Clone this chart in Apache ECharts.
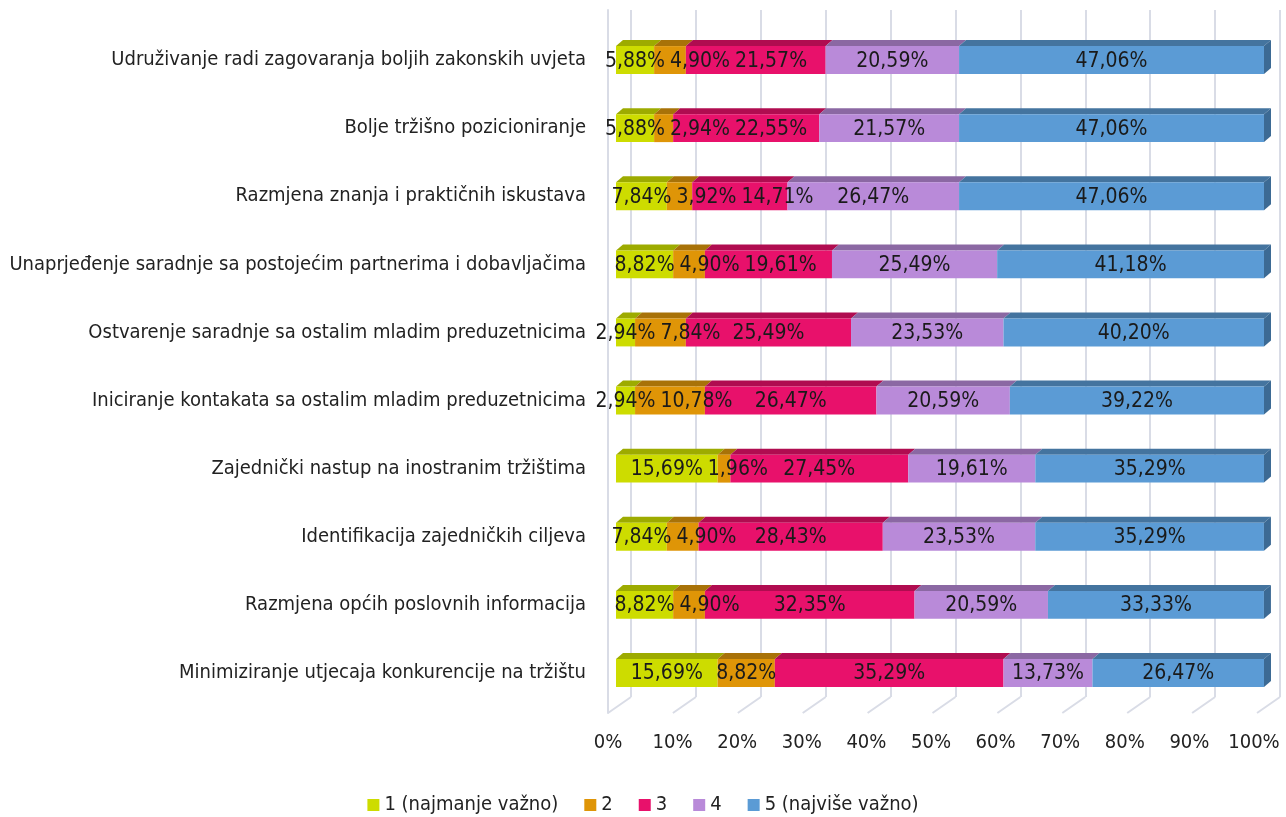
<!DOCTYPE html>
<html>
<head>
<meta charset="utf-8">
<script src="https://cdn.jsdelivr.net/npm/echarts@6/dist/echarts.min.js"></script>
<style>
  html, body { margin: 0; padding: 0; background: #fff; }
  #chart { width: 1286px; height: 817px; }
</style>
</head>
<body>
<div id="chart"></div>
<script>
// categories, top to bottom
const categories = [
  'Udruživanje radi zagovaranja boljih zakonskih uvjeta',
  'Bolje tržišno pozicioniranje',
  'Razmjena znanja i praktičnih iskustava',
  'Unaprjeđenje saradnje sa postojećim partnerima i dobavljačima',
  'Ostvarenje saradnje sa ostalim mladim preduzetnicima',
  'Iniciranje kontakata sa ostalim mladim preduzetnicima',
  'Zajednički nastup na inostranim tržištima',
  'Identifikacija zajedničkih ciljeva',
  'Razmjena općih poslovnih informacija',
  'Minimiziranje utjecaja konkurencije na tržištu'
]

const level1 = [5.88, 5.88, 7.84, 8.82, 2.94, 2.94, 15.69, 7.84, 8.82, 15.69]
const level2 = [4.90, 2.94, 3.92, 4.90, 7.84, 10.78, 1.96, 4.90, 4.90, 8.82]
const level3 = [21.57, 22.55, 14.71, 19.61, 25.49, 26.47, 27.45, 28.43, 32.35, 35.29]
const level4 = [20.59, 21.57, 26.47, 25.49, 23.53, 20.59, 19.61, 23.53, 20.59, 13.73]
const level5 = [47.06, 47.06, 47.06, 41.18, 40.20, 39.22, 35.29, 35.29, 33.33, 26.47]

const seriesNames = ['1 (najmanje važno)', '2', '3', '4', '5 (najviše važno)']
const xTicks = [0, 10, 20, 30, 40, 50, 60, 70, 80, 90, 100]

const levels = [level1, level2, level3, level4, level5]
const FRONT = ['#cddc00', '#df9507', '#e8116b', '#b98ad9', '#5b9bd5']
const TOP = ['#9dab00', '#a87208', '#b00c50', '#8b68a3', '#44749f']
const SIDE = '#3c6a94'
const FONT = '"Liberation Sans Narrow", "DejaVu Sans Condensed", sans-serif'
const LABEL_FONT = '21px ' + FONT
const GRID_COLOR = '#d9dce6'
const DX = 7, DY = 6
const LABEL_GAP = 5

// stacked start/end per level
const stacked = levels.map((vals, li) => vals.map((v, ci) => {
  let start = 0
  for (let k = 0; k < li; k++) start += levels[k][ci]
  return [start, start + v, ci, v]
}))

function fmt(v) {
  return v.toFixed(2).replace('.', ',') + '%'
}

const measureCtx = document.createElement('canvas').getContext('2d')
measureCtx.font = LABEL_FONT
function textWidth(s) {
  return measureCtx.measureText(s).width
}

function barRenderer(li) {
  return function (params, api) {
    const s = api.coord([api.value(0), api.value(2)])
    const e = api.coord([api.value(1), api.value(2)])
    const h = api.size([0, 1])[1] * 0.41
    const x0 = s[0], x1 = e[0]
    const yT = s[1] - h / 2, yB = s[1] + h / 2
    const children = [
      {
        type: 'polygon',
        shape: { points: [[x0, yT], [x1, yT], [x1 + DX, yT - DY], [x0 + DX, yT - DY]] },
        style: { fill: TOP[li] }
      },
      {
        type: 'rect',
        shape: { x: x0, y: yT, width: x1 - x0, height: h },
        style: { fill: FRONT[li] }
      }
    ]
    if (li === levels.length - 1) {
      children.push({
        type: 'polygon',
        shape: { points: [[x1, yT], [x1 + DX, yT - DY], [x1 + DX, yB - DY], [x1, yB]] },
        style: { fill: SIDE }
      })
    }
    return { type: 'group', children: children }
  }
}

// centre labels in their segment, then push them right so that they don't overlap
function labelCenters(api, ci) {
  let prevRight = -Infinity
  return levels.map((vals, li) => {
    const d = stacked[li][ci]
    const a = api.coord([d[0], ci])[0]
    const b = api.coord([d[1], ci])[0]
    const w = textWidth(fmt(d[3]))
    let c = (a + b) / 2
    if (c - w / 2 < prevRight + LABEL_GAP) c = prevRight + LABEL_GAP + w / 2
    prevRight = c + w / 2
    return c
  })
}

function labelRenderer(li) {
  return function (params, api) {
    const ci = api.value(2)
    const y = api.coord([0, ci])[1]
    return {
      type: 'text',
      z2: 10,
      style: {
        text: fmt(api.value(3)),
        x: labelCenters(api, ci)[li],
        y: y + 1,
        align: 'center',
        verticalAlign: 'middle',
        fill: '#1a1a1a',
        font: LABEL_FONT
      }
    }
  }
}

// floor lines running from the back wall to the front edge
function floorRenderer(params, api) {
  const p = api.coord([api.value(0), 0])
  return {
    type: 'line',
    shape: { x1: p[0], y1: p[1], x2: p[0] - 23, y2: p[1] + 16 },
    style: { stroke: GRID_COLOR, lineWidth: 2 }
  }
}

const chart = echarts.init(document.getElementById('chart'))

const series = []
levels.forEach((vals, li) => {
  series.push({
    name: seriesNames[li],
    type: 'custom',
    xAxisIndex: 2,
    yAxisIndex: 2,
    itemStyle: { color: FRONT[li] },
    renderItem: barRenderer(li),
    encode: { x: [0, 1], y: 2 },
    data: stacked[li]
  })
})
levels.forEach((vals, li) => {
  series.push({
    name: seriesNames[li],
    type: 'custom',
    xAxisIndex: 2,
    yAxisIndex: 2,
    z: 5,
    renderItem: labelRenderer(li),
    encode: { x: [0, 1], y: 2 },
    data: stacked[li]
  })
})
series.push({
  type: 'custom',
  xAxisIndex: 0,
  yAxisIndex: 0,
  silent: true,
  renderItem: floorRenderer,
  encode: { x: 0 },
  data: xTicks.map(t => [t])
})

const noBounds = { containLabel: false, outerBoundsMode: 'none' }

chart.setOption({
  animation: false,
  textStyle: { fontFamily: FONT },
  legend: {
    data: seriesNames,
    left: 'center',
    top: 790,
    icon: 'rect',
    itemWidth: 12,
    itemHeight: 12,
    itemGap: 26,
    textStyle: { fontSize: 20, color: '#222', fontFamily: FONT }
  },
  grid: [
    Object.assign({ left: 631, right: 6, top: 10, bottom: 120 }, noBounds),
    Object.assign({ left: 608, right: 32, top: 10, bottom: 104 }, noBounds),
    Object.assign({ left: 616, right: 22, top: 26, bottom: 110 }, noBounds)
  ],
  xAxis: [
    {
      gridIndex: 0, type: 'value', min: 0, max: 100, interval: 10,
      axisLabel: { show: false }, axisLine: { show: false }, axisTick: { show: false },
      splitLine: { show: true, lineStyle: { color: GRID_COLOR, width: 2 } }
    },
    {
      gridIndex: 1, type: 'value', min: 0, max: 100, interval: 10,
      axisLine: { show: false }, axisTick: { show: false }, splitLine: { show: false },
      axisLabel: { formatter: '{value}%', fontSize: 20, color: '#222', margin: 20, fontFamily: FONT }
    },
    { gridIndex: 2, type: 'value', min: 0, max: 100, show: false }
  ],
  yAxis: [
    { gridIndex: 0, type: 'value', min: 0, max: 1, show: false },
    {
      gridIndex: 1, type: 'value', min: 0, max: 1,
      axisLine: { show: true, lineStyle: { color: GRID_COLOR, width: 2 } },
      axisLabel: { show: false }, axisTick: { show: false }, splitLine: { show: false }
    },
    {
      gridIndex: 2, type: 'category', data: categories, inverse: true,
      axisLine: { show: false }, axisTick: { show: false },
      axisLabel: { fontSize: 20, color: '#222', margin: 30, fontFamily: FONT }
    }
  ],
  series: series
})
</script>
</body>
</html>
